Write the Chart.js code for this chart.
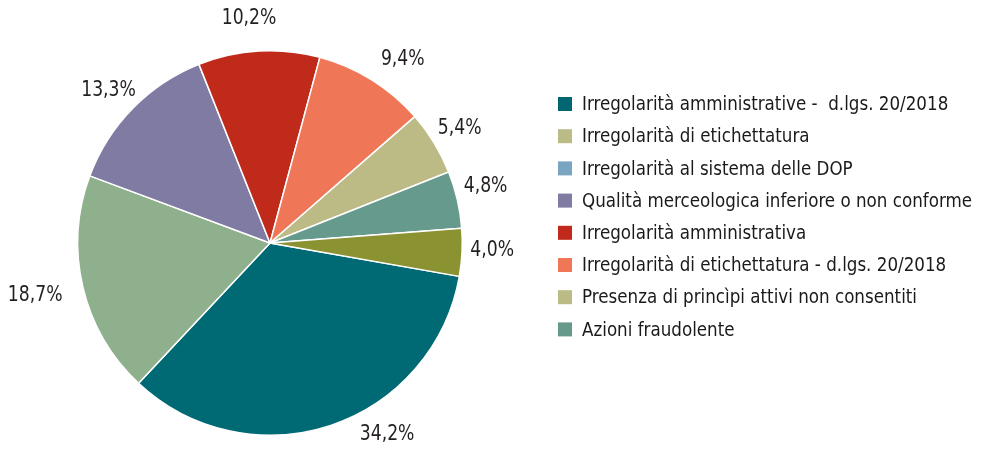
<!DOCTYPE html>
<html>
<head>
<meta charset="utf-8">
<script src="https://cdn.jsdelivr.net/npm/chart.js@4.4.1/dist/chart.umd.min.js"></script>
<style>
  html, body { margin: 0; background: #fff; }
  #wrap { width: 982px; height: 450px; }
</style>
</head>
<body>
<div id="wrap"><canvas id="pie"></canvas></div>
<script>
const categories = [
  'Irregolarità amministrative -  d.lgs. 20/2018',
  'Irregolarità di etichettatura',
  'Irregolarità al sistema delle DOP',
  'Qualità merceologica inferiore o non conforme',
  'Irregolarità amministrativa',
  'Irregolarità di etichettatura - d.lgs. 20/2018',
  'Presenza di princìpi attivi non consentiti',
  'Azioni fraudolente'
]
const shares = [34.2, 18.7, 13.3, 10.2, 9.4, 5.4, 4.8, 4.0]
const sliceColors = ['#006a74', '#8fb08c', '#7f7ba2', '#bf2a1b', '#ef7757', '#bcbb86', '#669a8c', '#8a9231']
const legendColors = ['#00666f', '#bbbb88', '#7aa5c0', '#7f7ba3', '#c0291b', '#ef7758', '#bbbb86', '#66998c']

const FONT = '"DejaVu Sans Condensed", "DejaVu Sans", sans-serif'

// draw text squeezed horizontally so the condensed face runs narrower
function narrowText(ctx, txt, x, y, sx) {
  ctx.save()
  ctx.translate(x, y)
  ctx.scale(sx, 1)
  ctx.fillText(txt, 0, 0)
  ctx.restore()
}

// percentage labels outside each slice
const pctLabels = {
  id: 'pctLabels',
  afterDatasetsDraw(chart, args, opts) {
    const ctx = chart.ctx
    const arcs = chart.getDatasetMeta(0).data
    ctx.save()
    ctx.font = '22px ' + FONT
    ctx.fillStyle = '#231f20'
    ctx.textAlign = 'center'
    ctx.textBaseline = 'middle'
    arcs.forEach((arc, i) => {
      const tweak = opts.tweak[i] || {}
      const mid = (arc.startAngle + arc.endAngle) / 2 + (tweak.angle || 0) * Math.PI / 180
      const d = arc.outerRadius + opts.gap + (tweak.dist || 0)
      const txt = shares[i].toFixed(1).replace('.', ',') + '%'
      narrowText(ctx, txt, arc.x + Math.cos(mid) * d, arc.y + Math.sin(mid) * d + 1, 0.87)
    })
    ctx.restore()
  }
}

// legend at the right, squares from legendColors
const sideLegend = {
  id: 'sideLegend',
  afterDraw(chart, args, opts) {
    const ctx = chart.ctx
    ctx.save()
    ctx.font = '20px ' + FONT
    ctx.textBaseline = 'middle'
    categories.forEach((name, i) => {
      const y = opts.top + i * opts.step
      ctx.fillStyle = legendColors[i]
      ctx.fillRect(opts.left, y - 7, 14, 14)
      ctx.fillStyle = '#1a1a1a'
      narrowText(ctx, name, opts.left + 24, y + 1, 0.93)
    })
    ctx.restore()
  }
}

new Chart(document.getElementById('pie'), {
  type: 'pie',
  data: {
    labels: categories,
    datasets: [{
      data: shares,
      backgroundColor: sliceColors,
      borderColor: '#ffffff',
      borderWidth: 1.5
    }]
  },
  options: {
    responsive: true,
    maintainAspectRatio: false,
    animation: false,
    rotation: 100,
    layout: { padding: { left: 77, right: 519, top: 50, bottom: 14 } },
    plugins: {
      legend: { display: false },
      tooltip: { enabled: false },
      pctLabels: {
        gap: 31,
        tweak: {
          0: { angle: -13.2 },
          1: { angle: 1, dist: 17 },
          2: { angle: -0.7 },
          3: { angle: -2, dist: 3 },
          4: { angle: 3.7, dist: 4.5 },
          5: { dist: -1 },
          6: { angle: -2 },
          7: { angle: -1.3, dist: -1 }
        }
      },
      sideLegend: { left: 558, top: 104, step: 32.2 }
    }
  },
  plugins: [pctLabels, sideLegend]
})
</script>
</body>
</html>
